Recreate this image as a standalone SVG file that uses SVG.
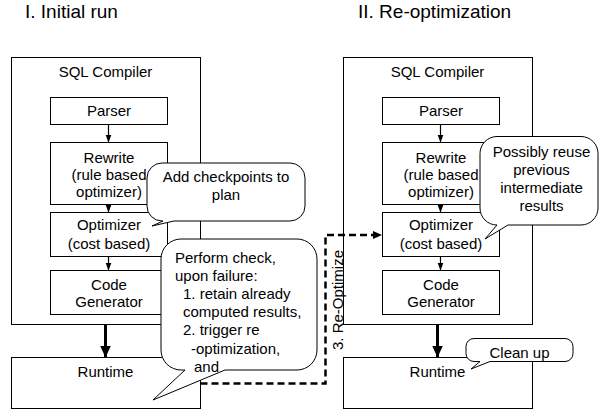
<svg xmlns="http://www.w3.org/2000/svg" width="599" height="410" viewBox="0 0 599 410">
<defs>
<style>
text{font-family:"Liberation Sans",Arial,sans-serif;font-size:15px;fill:#000}
.title{font-size:19px}
.c{text-anchor:middle}
.box{fill:#fff;stroke:#000;stroke-width:1}
.call{fill:#fff;stroke:#000;stroke-width:1}
.thin{stroke:#000;stroke-width:1.2;fill:none}
.thick{stroke:#000;stroke-width:3;fill:none}
.dash{stroke:#000;stroke-width:2.5;fill:none;stroke-dasharray:7 4}
</style>
<marker id="ah" markerUnits="userSpaceOnUse" markerWidth="8" markerHeight="8" refX="8" refY="3" orient="auto"><path d="M0,0 L8,3 L0,6 Z" fill="#000"/></marker>
<marker id="ahb" markerUnits="userSpaceOnUse" markerWidth="12" markerHeight="12" refX="12" refY="5.5" orient="auto"><path d="M0,0 L12,5.5 L0,11 Z" fill="#000"/></marker>
<marker id="ahd" markerUnits="userSpaceOnUse" markerWidth="9" markerHeight="9" refX="9" refY="4" orient="auto"><path d="M0,0 L9,4 L0,8 Z" fill="#000"/></marker>
</defs>

<text class="title" x="25" y="18">I. Initial run</text>
<text class="title" x="358" y="18">II. Re-optimization</text>

<g id="compiler1"><rect class="box" x="11.5" y="57.5" width="189" height="267"/><text class="c" x="105.5" y="77">SQL Compiler</text></g>
<g id="parser1"><rect class="box" x="50.5" y="97.5" width="117" height="27"/><text class="c" x="109" y="116">Parser</text></g>
<g id="rewrite1"><rect class="box" x="50.5" y="142.5" width="117" height="62"/><text class="c" x="109" y="163">Rewrite</text><text class="c" x="109" y="180">(rule based</text><text class="c" x="109" y="197">optimizer)</text></g>
<g id="optimizer1"><rect class="box" x="50.5" y="212.5" width="117" height="44"/><text class="c" x="109" y="230">Optimizer</text><text class="c" x="109" y="249">(cost based)</text></g>
<g id="codegen1"><rect class="box" x="50.5" y="270.5" width="117" height="44"/><text class="c" x="109" y="290">Code</text><text class="c" x="109" y="307">Generator</text></g>
<g id="runtime1"><rect class="box" x="11.5" y="357.5" width="189" height="51"/><text class="c" x="105.5" y="377">Runtime</text></g>

<g id="compiler2"><rect class="box" x="343.5" y="57.5" width="189" height="267"/><text class="c" x="437.5" y="77">SQL Compiler</text></g>
<g id="parser2"><rect class="box" x="382.5" y="97.5" width="117" height="27"/><text class="c" x="441" y="116">Parser</text></g>
<g id="rewrite2"><rect class="box" x="382.5" y="142.5" width="117" height="62"/><text class="c" x="441" y="163">Rewrite</text><text class="c" x="441" y="180">(rule based</text><text class="c" x="441" y="197">optimizer)</text></g>
<g id="optimizer2"><rect class="box" x="382.5" y="212.5" width="117" height="44"/><text class="c" x="441" y="230">Optimizer</text><text class="c" x="441" y="249">(cost based)</text></g>
<g id="codegen2"><rect class="box" x="382.5" y="270.5" width="117" height="44"/><text class="c" x="441" y="290">Code</text><text class="c" x="441" y="307">Generator</text></g>
<g id="runtime2"><rect class="box" x="343.5" y="357.5" width="189" height="51"/><text class="c" x="437.5" y="377">Runtime</text></g>

<g id="connectors">
<line class="thin" x1="108.5" y1="124.5" x2="108.5" y2="142.5" marker-end="url(#ah)"/>
<line class="thin" x1="108.5" y1="204.5" x2="108.5" y2="212.5" marker-end="url(#ah)"/>
<line class="thin" x1="108.5" y1="256.5" x2="108.5" y2="270.5" marker-end="url(#ah)"/>
<line class="thick" x1="105.5" y1="324.5" x2="105.5" y2="357.5" marker-end="url(#ahb)"/>
<line class="thin" x1="440.5" y1="124.5" x2="440.5" y2="142.5" marker-end="url(#ah)"/>
<line class="thin" x1="440.5" y1="204.5" x2="440.5" y2="212.5" marker-end="url(#ah)"/>
<line class="thin" x1="440.5" y1="256.5" x2="440.5" y2="270.5" marker-end="url(#ah)"/>
<line class="thick" x1="437.5" y1="324.5" x2="437.5" y2="357.5" marker-end="url(#ahb)"/>
<path class="dash" d="M200.5,383.5 H325.5 V235 H382" marker-end="url(#ahd)"/>
<text transform="translate(343,350) rotate(-90)">3. Re-Optimize</text>
</g>

<g id="callout-checkpoints">
<path class="call" d="M162,163 H290 A15,15 0 0 1 305,178 V206 A15,15 0 0 1 290,221 H174 L152,226 L163,221 H162 A15,15 0 0 1 147,206 V178 A15,15 0 0 1 162,163 Z"/>
<text class="c" x="226" y="182">Add checkpoints to</text>
<text class="c" x="226" y="200">plan</text>
</g>
<g id="callout-check">
<path class="call" d="M181,239 H297 A20,20 0 0 1 317,259 V350 A20,20 0 0 1 297,370 H225 L153,400 L185,370 H181 A20,20 0 0 1 161,350 V259 A20,20 0 0 1 181,239 Z"/>
<text x="175" y="263">Perform check,</text>
<text x="175" y="281">upon failure:</text>
<text x="183" y="299">1. retain already</text>
<text x="183" y="317">computed results,</text>
<text x="183" y="335">2. trigger re</text>
<text x="191" y="354">-optimization,</text>
<text x="194" y="372">and</text>
</g>
<g id="callout-reuse">
<path class="call" d="M497,136.5 H581 A17,17 0 0 1 598,153.5 V208 A17,17 0 0 1 581,225 H508 L485,239 L497,225 A17,17 0 0 1 480,208 V153.5 A17,17 0 0 1 497,136.5 Z"/>
<text class="c" x="541.5" y="157">Possibly reuse</text>
<text class="c" x="541.5" y="175">previous</text>
<text class="c" x="541.5" y="193">intermediate</text>
<text class="c" x="541.5" y="211">results</text>
</g>
<g id="callout-cleanup">
<path class="call" d="M474,338.5 H565 A8,8 0 0 1 573,346.5 V353.5 A8,8 0 0 1 565,361.5 H490 L471,369 L480,361.5 H474 A8,8 0 0 1 466,353.5 V346.5 A8,8 0 0 1 474,338.5 Z"/>
<text class="c" x="519.5" y="358">Clean up</text>
</g>
</svg>
